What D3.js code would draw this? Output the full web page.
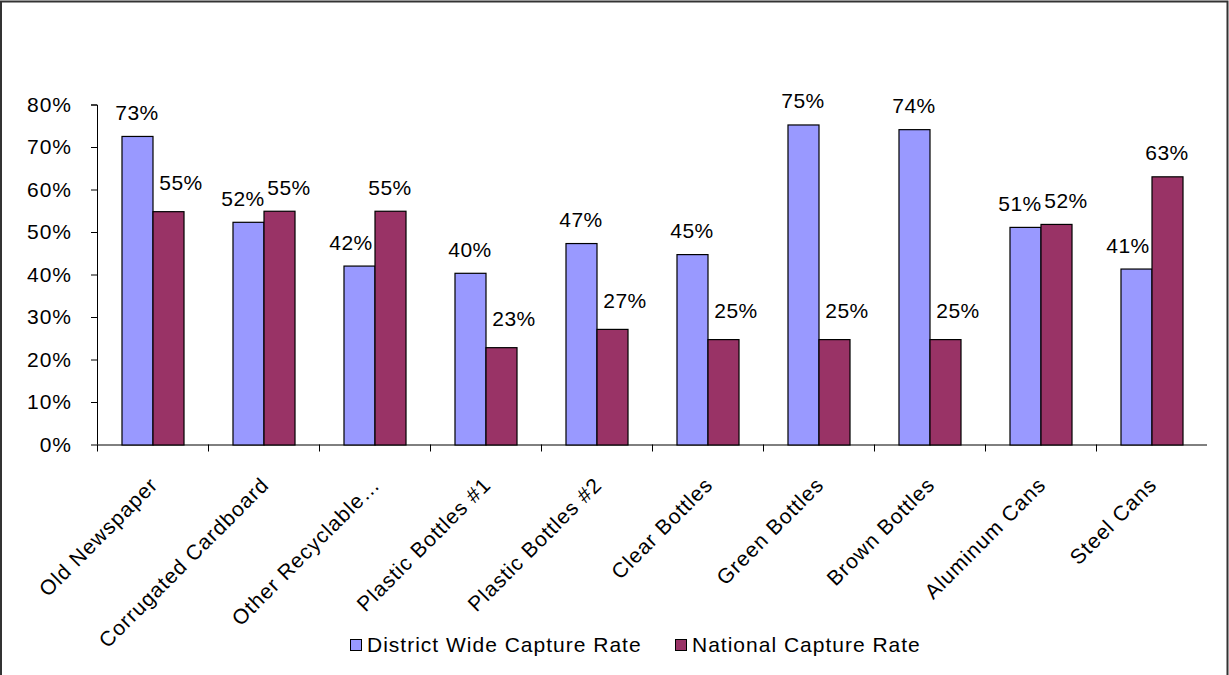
<!DOCTYPE html>
<html>
<head>
<meta charset="utf-8">
<script src="https://cdn.jsdelivr.net/npm/d3@7"></script>
<style>
  html, body { margin: 0; padding: 0; background: #fff; }
  svg { display: block; }
  text { font-family: "Liberation Sans", Arial, sans-serif; fill: #000; letter-spacing: 1px; }
  text.val { letter-spacing: 0.5px; }
</style>
</head>
<body>
<svg id="chart" width="1229" height="675"></svg>
<script>
// Capture rates by material
const categories = [
  "Old Newspaper", "Corrugated Cardboard", "Other Recyclable…", "Plastic Bottles #1",
  "Plastic Bottles #2", "Clear Bottles", "Green Bottles", "Brown Bottles",
  "Aluminum Cans", "Steel Cans"
];
const districtRate = [0.726, 0.524, 0.421, 0.404, 0.474, 0.448, 0.753, 0.742, 0.512, 0.414];
const nationalRate = [0.549, 0.550, 0.550, 0.229, 0.272, 0.248, 0.248, 0.248, 0.519, 0.631];
const seriesNames = ["District Wide Capture Rate", "National Capture Rate"];
const seriesColors = ["#9999FF", "#993366"];
const yTicks = [0, 0.1, 0.2, 0.3, 0.4, 0.5, 0.6, 0.7, 0.8];

const svg = d3.select("#chart");
const W = 1229, H = 675;
const fontSize = 21;

// frame around the chart area (left, top, right)
svg.append("path")
  .attr("d", `M1,${H} L1,1.5 L1227.5,1.5 L1227.5,${H}`)
  .attr("fill", "none").attr("stroke", "#333").attr("stroke-width", 2);

const plot = { left: 97, right: 1207, top: 104.5, bottom: 444.5 };

const x = d3.scaleBand()
  .domain(categories)
  .range([plot.left, plot.right])
  .paddingInner(0)
  .paddingOuter(0);

const xs = d3.scaleBand()
  .domain([0, 1])
  .range([0, x.bandwidth()])
  .paddingInner(0)
  .paddingOuter(0.79);

const y = d3.scaleLinear().domain([0, 0.8]).range([plot.bottom, plot.top]);
const pct = d3.format(".0%");

// y axis
const yAxis = svg.append("g")
  .attr("transform", `translate(${plot.left},0)`)
  .call(d3.axisLeft(y).tickValues(yTicks).tickFormat(pct).tickSize(6).tickPadding(19));
yAxis.select(".domain").attr("stroke", "#000").attr("d", `M-6,${plot.top + 0.5}H0.5V${plot.bottom}`);
yAxis.selectAll(".tick line").attr("stroke", "#000");
yAxis.selectAll(".tick text")
  .style("font-family", '"Liberation Sans", Arial, sans-serif')
  .style("font-size", fontSize + "px").attr("fill", "#000");

// x axis line and category separators
const xg = svg.append("g");
xg.append("line")
  .attr("x1", plot.left).attr("x2", plot.right)
  .attr("y1", plot.bottom + 0.5).attr("y2", plot.bottom + 0.5)
  .attr("stroke", "#000");
xg.selectAll("line.sep")
  .data(categories)
  .join("line")
  .attr("class", "sep")
  .attr("x1", d => Math.round(x(d)) + 0.5).attr("x2", d => Math.round(x(d)) + 0.5)
  .attr("y1", plot.bottom).attr("y2", plot.bottom + 7)
  .attr("stroke", "#000");

// rotated category labels
xg.selectAll("text.cat")
  .data(categories)
  .join("text")
  .attr("class", "cat")
  .attr("transform", d => `translate(${x(d) + x.bandwidth() / 2 - 4},${plot.bottom + 31}) rotate(-45)`)
  .attr("text-anchor", "end")
  .attr("dy", "0.72em")
  .style("font-size", fontSize + "px")
  .text(d => d);

// bars
const rows = categories.map((c, i) => ({ c, vals: [districtRate[i], nationalRate[i]] }));
const groups = svg.append("g").selectAll("g")
  .data(rows)
  .join("g")
  .attr("transform", d => `translate(${x(d.c)},0)`);

groups.selectAll("rect")
  .data(d => d.vals.map((v, k) => ({ v, k })))
  .join("rect")
  .attr("x", d => xs(d.k) + 0.5)
  .attr("width", xs.bandwidth())
  .attr("y", d => y(d.v) + 0.5)
  .attr("height", d => y(0) - y(d.v))
  .attr("fill", d => seriesColors[d.k])
  .attr("stroke", "#000")
  .attr("stroke-width", 1.2);

// value labels: nudged away from a taller neighbouring bar,
// or spread apart when both labels sit at about the same height
function labelShift(d) {
  const dyPix = y(d.v) - y(d.other);          // > 0 when the other bar is taller
  if (dyPix > 17) return d.k === 0 ? { dx: -8, dy: 0 } : { dx: 13, dy: -5 };
  if (Math.abs(dyPix) <= 17) return d.k === 0 ? { dx: -5, dy: 0 } : { dx: 10, dy: 0 };
  return { dx: 0, dy: 0 };
}
groups.selectAll("text.val")
  .data(d => d.vals.map((v, k) => ({ v, k, other: d.vals[1 - k] })))
  .join("text")
  .attr("class", "val")
  .attr("text-anchor", "middle")
  .style("font-size", fontSize + "px")
  .attr("x", d => xs(d.k) + xs.bandwidth() / 2 + labelShift(d).dx)
  .attr("y", d => y(d.v) - 16 + labelShift(d).dy)
  .text(d => pct(d.v));

// legend
const legend = svg.append("g");
const legendItems = [
  { name: seriesNames[0], color: seriesColors[0], x: 350 },
  { name: seriesNames[1], color: seriesColors[1], x: 675 }
];
legendItems.forEach(it => {
  legend.append("rect")
    .attr("x", it.x + 0.5).attr("y", 639.5)
    .attr("width", 11).attr("height", 11)
    .attr("fill", it.color).attr("stroke", "#000");
  legend.append("text")
    .attr("x", it.x + 17).attr("y", 652)
    .style("font-size", fontSize + "px")
    .text(it.name);
});
</script>
</body>
</html>
